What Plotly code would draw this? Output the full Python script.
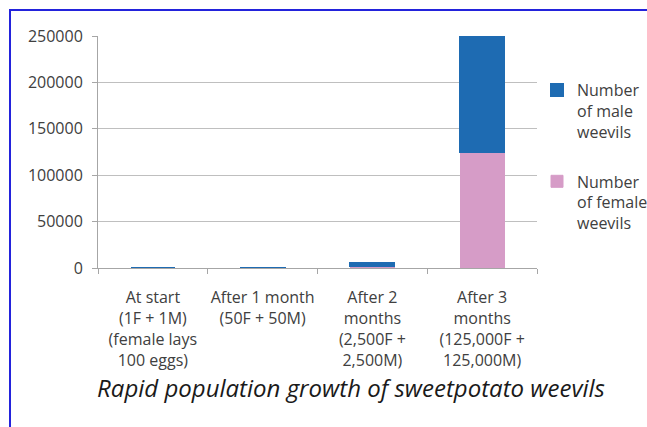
import plotly.graph_objects as go

categories = [
    "At start<br>(1F + 1M)<br>(female lays<br>100 eggs)",
    "After 1 month<br>(50F + 50M)",
    "After 2<br>months<br>(2,500F +<br>2,500M)",
    "After 3<br>months<br>(125,000F +<br>125,000M)",
]
female = [1, 50, 2500, 125000]
male = [1, 50, 2500, 125000]
title_text = "Rapid population growth of sweetpotato weevils"

W, H = 647, 427
L, R, T, B = 98, 537, 36, 268  # plot area in px

def px(x):
    return (x - L) / (R - L)

def py(y):
    return (B - y) / (B - T)

FONT = "Open Sans"
BLUE = "rgb(30,107,178)"
PINK = "rgb(214,156,199)"

fig = go.Figure()
fig.add_trace(go.Bar(
    x=categories, y=female, name="Number<br>of female<br>weevils",
    marker=dict(color=PINK, line=dict(color=PINK, width=1)),
    legendgroup="f", legendrank=2,
))
fig.add_trace(go.Bar(
    x=categories, y=male, name="Number<br>of male<br>weevils",
    marker=dict(color=BLUE, line=dict(color=BLUE, width=2)),
    legendgroup="m", legendrank=1,
))

fig.update_layout(
    width=W, height=H,
    margin=dict(l=L, r=W - R, t=T, b=H - B, pad=0, autoexpand=False),
    paper_bgcolor="white", plot_bgcolor="white",
    barmode="stack", bargap=0.6,
    font=dict(family=FONT, size=16, color="#404040"),
    showlegend=True,
    legend=dict(
        x=px(537), y=py(73), xanchor="left", yanchor="top",
        traceorder="grouped", tracegroupgap=26,
        valign="top", font=dict(family=FONT, size=16, color="#404040"),
        bgcolor="rgba(0,0,0,0)",
    ),
    title=dict(
        text=title_text, xref="container", yref="container",
        x=351 / W, y=1 - 389 / H, xanchor="center", yanchor="middle",
        font=dict(family=FONT, size=24, color="#1a1a1a", style="italic"),
    ),
    xaxis=dict(
        type="category", tickson="boundaries", ticks="outside", ticklen=5,
        tickcolor="#a6a6a6", showline=True, linecolor="#a6a6a6", linewidth=1,
        showgrid=False, ticklabelstandoff=15, tickangle=0,
        tickfont=dict(family=FONT, size=16, color="#404040"),
    ),
    yaxis=dict(
        range=[0, 250000], dtick=50000, tickformat="d",
        ticks="outside", ticklen=5, tickcolor="#a6a6a6",
        showline=True, linecolor="#a6a6a6", linewidth=1,
        showgrid=True, gridcolor="#bfbfbf", gridwidth=1,
        zeroline=False, ticklabelstandoff=6,
        tickfont=dict(family=FONT, size=16, color="#404040"),
    ),
    shapes=[
        dict(type="line", xref="paper", yref="paper",
             x0=px(9), x1=px(660), y0=py(10), y1=py(10),
             line=dict(color="rgb(35,35,220)", width=2)),
        dict(type="line", xref="paper", yref="paper",
             x0=px(10), x1=px(10), y0=py(9), y1=py(440),
             line=dict(color="rgb(35,35,220)", width=2)),
    ],
)

fig.write_html("out.html")
